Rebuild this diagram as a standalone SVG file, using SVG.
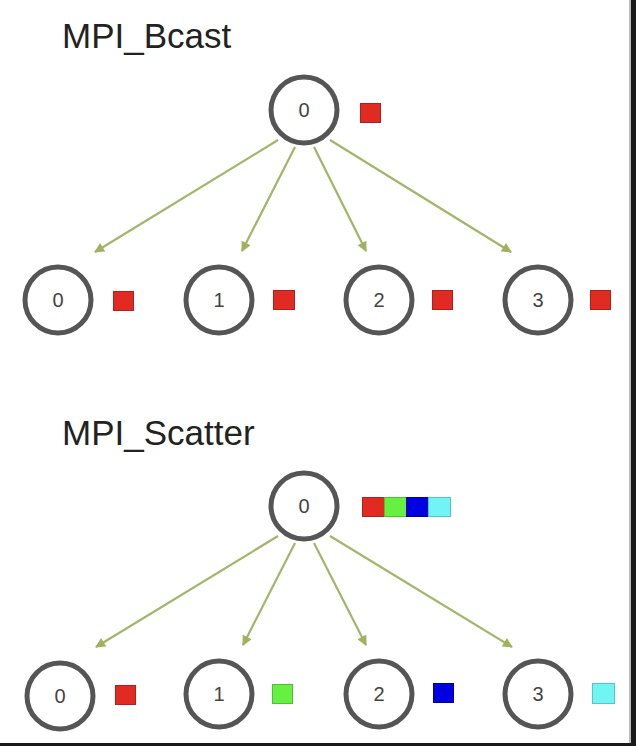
<svg xmlns="http://www.w3.org/2000/svg" width="636" height="746" viewBox="0 0 636 746">
<style>
.title{font-family:"Liberation Sans",Arial,sans-serif;font-size:35px;fill:#222}
.node circle{fill:#fff;stroke:#555;stroke-width:5}
.node text{font-family:"Liberation Sans",Arial,sans-serif;font-size:20px;fill:#444;text-anchor:middle}
.conn line{stroke:#a3b56a;stroke-width:2.2}
.sq{stroke-width:1}
.r{fill:#e02a22;stroke:#b02020}
.g{fill:#66f040;stroke:#50c030}
.b{fill:#0000e0;stroke:#0000a0}
.c{fill:#70f4f4;stroke:#50c8c8}
</style>
<defs>
<marker id="ah" viewBox="0 0 10 10" refX="9" refY="5" markerWidth="11" markerHeight="10" orient="auto" markerUnits="userSpaceOnUse">
<path d="M0,0 L10,5 L0,10 z" fill="#9fb35f"/>
</marker>
</defs>
<rect width="636" height="746" fill="#fff"/>
<rect x="629" y="0" width="2" height="746" fill="#bbb"/>
<rect x="631" y="0" width="5" height="746" fill="#1a1a1a"/>
<rect x="0" y="743" width="636" height="3" fill="#1a1a1a"/>

<text class="title" x="62" y="48">MPI_Bcast</text>
<text class="title" x="62" y="445">MPI_Scatter</text>

<g class="conn" id="connectors">
<line x1="278" y1="140" x2="95" y2="252" marker-end="url(#ah)"/>
<line x1="295" y1="147" x2="242" y2="251" marker-end="url(#ah)"/>
<line x1="314" y1="147" x2="366" y2="251" marker-end="url(#ah)"/>
<line x1="330" y1="140" x2="511" y2="252" marker-end="url(#ah)"/>
<line x1="278" y1="536" x2="96" y2="647" marker-end="url(#ah)"/>
<line x1="295" y1="543" x2="243" y2="645" marker-end="url(#ah)"/>
<line x1="314" y1="543" x2="366" y2="645" marker-end="url(#ah)"/>
<line x1="330" y1="536" x2="512" y2="647" marker-end="url(#ah)"/>
</g>

<g class="node" id="b-root"><circle cx="304" cy="110" r="33"/><text x="304" y="117">0</text></g>
<g class="node" id="b-0"><circle cx="58" cy="300" r="33"/><text x="58" y="307">0</text></g>
<g class="node" id="b-1"><circle cx="219" cy="300" r="33"/><text x="219" y="307">1</text></g>
<g class="node" id="b-2"><circle cx="379" cy="300" r="33"/><text x="379" y="307">2</text></g>
<g class="node" id="b-3"><circle cx="538" cy="300" r="33"/><text x="538" y="307">3</text></g>

<g id="b-data">
<rect class="sq r" x="360.5" y="103.5" width="20" height="19"/>
<rect class="sq r" x="113.5" y="291.5" width="20" height="19"/>
<rect class="sq r" x="273.5" y="290.5" width="21" height="19"/>
<rect class="sq r" x="432.5" y="290.5" width="20" height="19"/>
<rect class="sq r" x="590.5" y="290.5" width="20" height="19"/>
</g>

<g class="node" id="s-root"><circle cx="304" cy="506" r="33"/><text x="304" y="513">0</text></g>
<g class="node" id="s-0"><circle cx="60" cy="696" r="33"/><text x="60" y="703">0</text></g>
<g class="node" id="s-1"><circle cx="219" cy="694" r="33"/><text x="219" y="701">1</text></g>
<g class="node" id="s-2"><circle cx="379" cy="694" r="33"/><text x="379" y="701">2</text></g>
<g class="node" id="s-3"><circle cx="538" cy="694" r="33"/><text x="538" y="701">3</text></g>

<g id="s-data">
<rect class="sq r" x="362.5" y="497.5" width="22" height="19"/>
<rect class="sq g" x="384.5" y="497.5" width="22" height="19"/>
<rect class="sq b" x="406.5" y="497.5" width="22" height="19"/>
<rect class="sq c" x="428.5" y="497.5" width="22" height="19"/>
<rect class="sq r" x="115.5" y="685.5" width="20" height="19"/>
<rect class="sq g" x="272.5" y="684.5" width="20" height="19"/>
<rect class="sq b" x="433.5" y="683.5" width="20" height="19"/>
<rect class="sq c" x="592.5" y="683.5" width="22" height="20"/>
</g>
</svg>
